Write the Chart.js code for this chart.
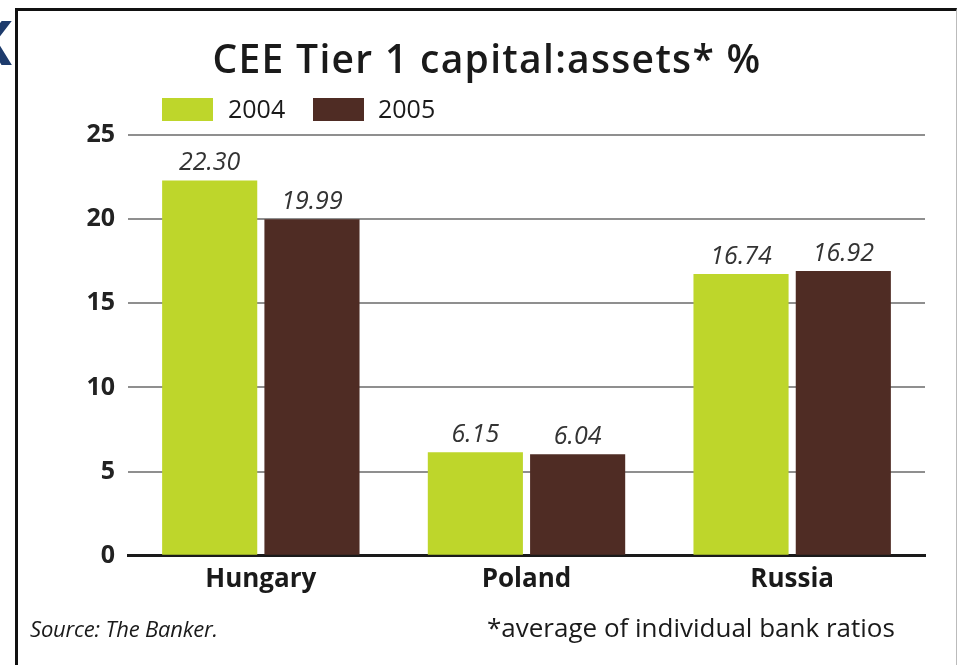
<!DOCTYPE html>
<html>
<head>
<meta charset="utf-8">
<script src="https://cdn.jsdelivr.net/npm/chart.js@4.4.1/dist/chart.umd.min.js"></script>
<style>
  body { margin: 0; background: #fff; width: 964px; height: 665px; overflow: hidden; position: relative; font-family: 'Open Sans', sans-serif; }
  #frame { position: absolute; left: 15px; top: 8px; width: 942px; height: 700px; border-left: 3px solid #111; border-top: 3px solid #111; border-right: 1px solid #bbb; box-sizing: border-box; }
  #k { position: absolute; left: -28px; top: 12px; font: bold 60px/60px 'Open Sans', sans-serif; color: #1d3b6c; }
  #chart { position: absolute; left: 0; top: 0; }
  .txt { position: absolute; white-space: nowrap; color: #1a1a1a; }
  #title { left: 5px; width: 964px; top: 38px; text-align: center; font-size: 39px; line-height: 39px; font-weight: 600; letter-spacing: 1.3px; }
  .box { position: absolute; top: 98px; width: 51px; height: 23px; }
  .leg { top: 96px; font-size: 25px; line-height: 25px; }
  #source { left: 30px; top: 617px; font-size: 22px; line-height: 22px; font-style: italic; letter-spacing: -0.2px; }
  #note { left: 487px; top: 614px; font-size: 26px; line-height: 26px; }
</style>
</head>
<body>
<div id="k">K</div>
<div id="frame"></div>
<canvas id="chart" width="964" height="665"></canvas>
<div class="txt" id="title">CEE Tier 1 capital:assets* %</div>
<div id="legend"></div>
<div class="txt" id="source">Source: The Banker.</div>
<div class="txt" id="note">*average of individual bank ratios</div>
<script>
// CEE Tier 1 capital:assets, % (average of individual bank ratios)
const categories = ["Hungary", "Poland", "Russia"];
const seriesNames = ["2004", "2005"];
const values2004 = [22.30, 6.15, 16.74];
const values2005 = [19.99, 6.04, 16.92];
const yTicks = [0, 5, 10, 15, 20, 25];
const seriesColors = ["#bed62b", "#4f2c24"];

document.addEventListener("DOMContentLoaded", () => {
    buildLegend();
    renderChart();
});

function buildLegend() {
    const legend = document.getElementById("legend");
    const boxLeft = [162, 313];
    const textLeft = [228, 378];
    seriesNames.forEach((name, i) => {
        const box = document.createElement("div");
        box.className = "box";
        box.style.left = boxLeft[i] + "px";
        box.style.background = seriesColors[i];
        legend.appendChild(box);

        const label = document.createElement("div");
        label.className = "txt leg";
        label.style.left = textLeft[i] + "px";
        label.textContent = name;
        legend.appendChild(label);
    });
}

// numbers above each bar, placed from the bar elements
const valueLabels = {
    id: "valueLabels",
    afterDatasetsDraw(chart) {
        const ctx = chart.ctx;
        ctx.save();
        ctx.font = "italic 25px 'Open Sans', sans-serif";
        ctx.fillStyle = "#333";
        ctx.textAlign = "center";
        ctx.textBaseline = "alphabetic";
        chart.data.datasets.forEach((ds, i) => {
            chart.getDatasetMeta(i).data.forEach((bar, j) => {
                ctx.fillText(ds.data[j].toFixed(2), bar.x, bar.y - 10);
            });
        });
        ctx.restore();
    }
};

function renderChart() {
    const ctx = document.getElementById("chart").getContext("2d");
    new Chart(ctx, {
        type: "bar",
        data: {
            labels: categories,
            datasets: [
                { label: seriesNames[0], data: values2004, backgroundColor: seriesColors[0] },
                { label: seriesNames[1], data: values2005, backgroundColor: seriesColors[1] }
            ]
        },
        options: {
            responsive: false,
            animation: false,
            categoryPercentage: 0.77,
            barPercentage: 0.93,
            layout: { padding: { top: 135, left: 20, right: 39, bottom: 62 } },
            plugins: {
                legend: { display: false },
                title: { display: false },
                tooltip: { enabled: false }
            },
            scales: {
                x: {
                    grid: { display: false, drawTicks: false },
                    border: { display: true, color: "#1a1a1a", width: 3 },
                    ticks: {
                        color: "#1a1a1a",
                        padding: 8,
                        font: { family: "'Open Sans', sans-serif", size: 26, weight: "bold" }
                    }
                },
                y: {
                    min: 0,
                    max: 25,
                    afterBuildTicks: scale => { scale.ticks = yTicks.map(v => ({ value: v })); },
                    afterFit: scale => { scale.width = 108; },
                    grid: {
                        drawTicks: false,
                        lineWidth: 2,
                        color: c => (c.tick && c.tick.value === 0 ? "rgba(0,0,0,0)" : "#8f8f8f")
                    },
                    border: { display: false },
                    ticks: {
                        color: "#222",
                        padding: 13,
                        font: { family: "'Open Sans', sans-serif", size: 25, weight: "bold" }
                    }
                }
            }
        },
        plugins: [valueLabels]
    });
}
</script>
</body>
</html>
